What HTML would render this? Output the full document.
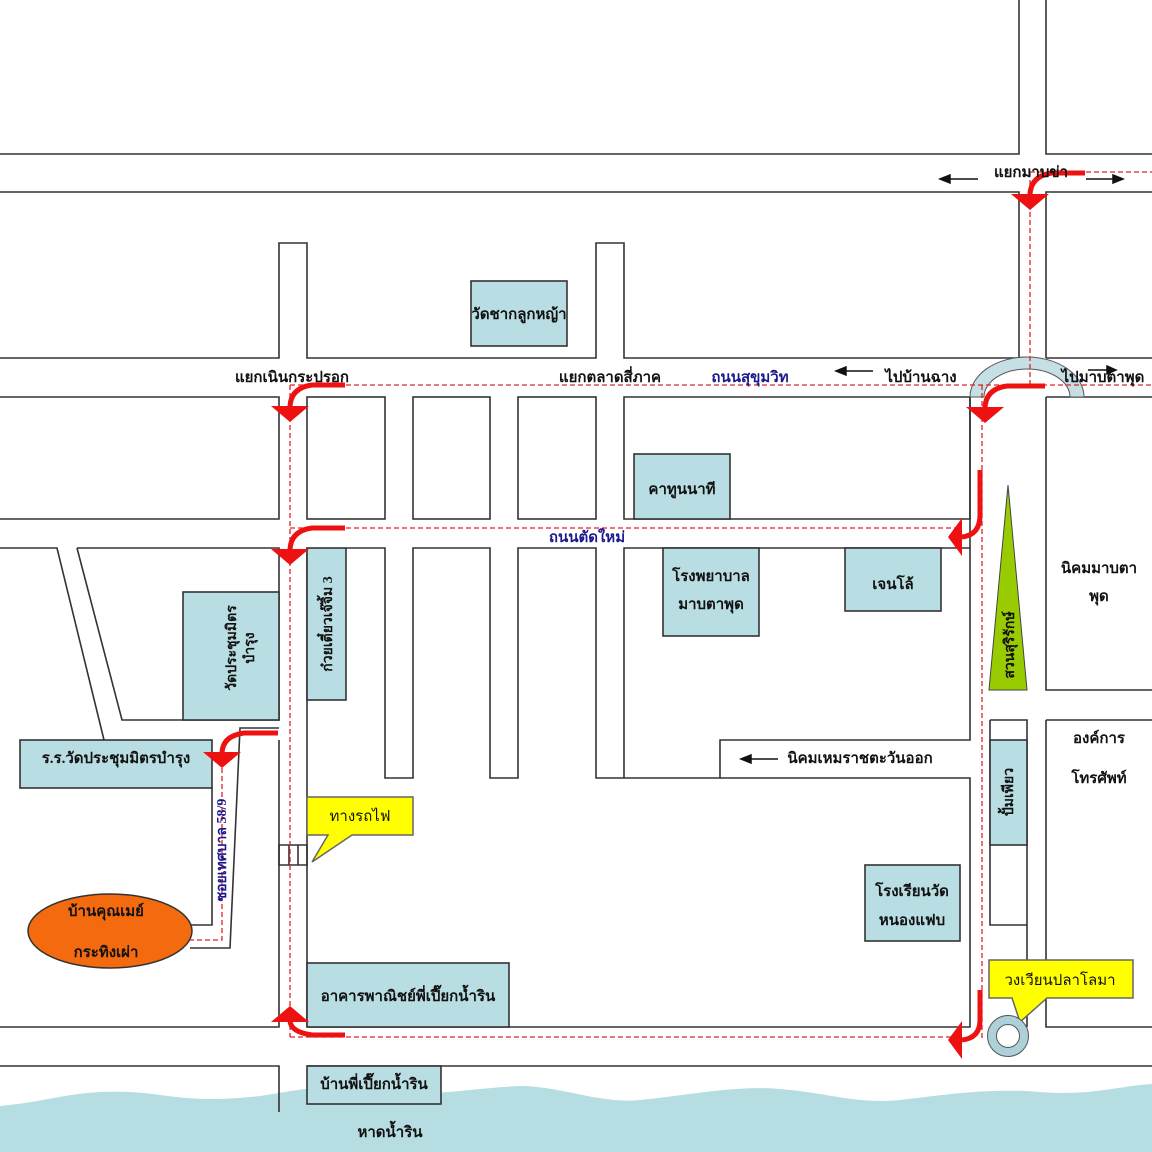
<!DOCTYPE html>
<html><head><meta charset="utf-8"><style>
html,body{margin:0;padding:0;background:#fff}
svg{display:block}
text{font-family:"Liberation Serif","Noto Serif CJK SC",serif;font-weight:bold;font-size:15px;fill:#111}
.b{fill:#1a1a8c}
</style></head><body>
<svg width="1152" height="1152" viewBox="0 0 1152 1152" xmlns="http://www.w3.org/2000/svg">
<path d="M0,1106 C60,1100 70,1090 130,1092 C170,1094 190,1104 260,1096 C300,1090 330,1082 380,1090 C430,1098 470,1088 520,1086 C560,1086 600,1104 640,1100 C700,1094 740,1084 790,1090 C830,1094 860,1104 900,1100 C950,1094 990,1088 1040,1092 C1090,1096 1120,1086 1152,1084 L1152,1152 L0,1152Z" fill="#b6dde1"/>
<g fill="none" stroke="#333" stroke-width="1.6">
<path d="M0,154H1019V0 M1046,0V154H1152"/>
<path d="M0,192H1019V358 M1152,192H1046V358"/>
<path d="M0,358H279V243H307V358H596V243H624V358H1019 M1046,358H1152"/>
<path d="M0,397H279V519H0"/>
<rect x="307" y="397" width="78" height="122"/>
<rect x="413" y="397" width="77" height="122"/>
<rect x="518" y="397" width="78" height="122"/>
<path d="M624,397H970V519H624Z"/>
<path d="M1046,397H1152 M1046,397V690H1152"/>
<path d="M0,548H57L104,740 M77,548H279V720H122L77,548"/>
<path d="M279,728H240L230,948H190 M212,788V925H190"/>
<path d="M0,1027H279V740"/>
<path d="M307,548V1027 M346,548H385V778H413V548H490V778H518V548H596V778H720V740H970V548H624V778"/>
<path d="M720,778H970V1027H307"/>
<path d="M970,397V548"/>
<path d="M990,720H1027V1027 M990,720V925H1027"/>
<path d="M1046,720H1152 M1046,720V1027H1152"/>
<path d="M0,1066H279V1112 M307,1066H1152"/>
<path d="M279,845H307V865H279Z M289,845V865 M298,845V865"/>
</g>
<path d="M970,397 A57,40 0 0 1 1084,397 L1070,397 A43,28 0 0 0 984,397Z" fill="#c5dfe4" stroke="#555" stroke-width="1"/>
<g fill="#b8dde2" stroke="#333" stroke-width="1.6">
<rect x="471" y="281" width="96" height="65"/>
<rect x="634" y="454" width="96" height="65"/>
<rect x="663" y="548" width="96" height="88"/>
<rect x="845" y="548" width="96" height="63"/>
<rect x="183" y="592" width="96" height="128"/>
<rect x="307" y="548" width="39" height="152"/>
<rect x="20" y="740" width="192" height="48"/>
<rect x="307" y="963" width="202" height="64"/>
<rect x="307" y="1066" width="134" height="38"/>
<rect x="865" y="865" width="95" height="76"/>
<rect x="990" y="740" width="37" height="105"/>
</g>
<polygon points="1008,485 989,690 1027,690" fill="#99cc00" stroke="#444" stroke-width="1"/>
<ellipse cx="110" cy="931" rx="82" ry="37" fill="#f46a0e" stroke="#333" stroke-width="1.5"/>
<path d="M307,797H413V835H352L312,862L328,835H307Z" fill="#ffff00" stroke="#666" stroke-width="1.5"/>
<path d="M989,960H1133V998H1047L1020,1022L1012,998H989Z" fill="#ffff00" stroke="#666" stroke-width="1.5"/>
<circle cx="1008" cy="1036" r="16" fill="none" stroke="#aed0d8" stroke-width="9"/>
<circle cx="1008" cy="1036" r="20.5" fill="none" stroke="#555" stroke-width="1"/>
<circle cx="1008" cy="1036" r="11.5" fill="none" stroke="#555" stroke-width="1"/>
<g fill="none" stroke="#e0202a" stroke-width="1.3" stroke-dasharray="5,3">
<path d="M290,385H1152 M1030,172H1152 M1030,172V385 M982,385V1040 M290,385V1037 M290,528H960 M290,1037H960 M222,760V940H190"/>
</g>
<g fill="none" stroke="#ee1111" stroke-width="5">
<path d="M345,385H312Q290,388 290,408"/>
<path d="M345,528H312Q290,531 290,551"/>
<path d="M1085,173H1052Q1030,176 1030,196"/>
<path d="M1045,386H1007Q985,389 985,409"/>
<path d="M278,733H244Q222,736 222,754"/>
<path d="M345,1035H312Q290,1032 290,1020"/>
<path d="M980,470V515Q980,535 962,537"/>
<path d="M980,990V1020Q980,1038 962,1040"/>
</g>
<g fill="#ee1111">
<polygon points="271,406 309,406 290,422"/>
<polygon points="271,549 309,549 290,565"/>
<polygon points="1011,194 1049,194 1030,210"/>
<polygon points="966,407 1004,407 985,423"/>
<polygon points="203,752 241,752 222,768"/>
<polygon points="271,1022 309,1022 290,1006"/>
<polygon points="962,518 962,556 948,537"/>
<polygon points="962,1021 962,1059 948,1040"/>
</g>
<g stroke="#111" stroke-width="1.5" fill="#111">
<path d="M978,179H946"/><polygon points="940,179 950,175 950,183"/>
<path d="M1086,179H1116"/><polygon points="1123,179 1113,175 1113,183"/>
<path d="M873,371H843"/><polygon points="836,371 846,367 846,375"/>
<path d="M1088,370H1110"/><polygon points="1116,370 1107,366 1107,374"/>
<path d="M778,759H748"/><polygon points="741,759 751,755 751,763"/>
</g>
<text x="519" y="319" text-anchor="middle">วัดชากลูกหญ้า</text>
<text x="682" y="494" text-anchor="middle">คาทูนนาที</text>
<text x="711" y="581" text-anchor="middle">โรงพยาบาล</text>
<text x="711" y="609" text-anchor="middle">มาบตาพุด</text>
<text x="893" y="589" text-anchor="middle">เจนโล้</text>
<text x="116" y="763" text-anchor="middle">ร.ร.วัดประชุมมิตรบำรุง</text>
<text x="408" y="1001" text-anchor="middle">อาคารพาณิชย์พี่เปี๊ยกน้ำริน</text>
<text x="374" y="1089" text-anchor="middle">บ้านพี่เปี๊ยกน้ำริน</text>
<text x="912" y="896" text-anchor="middle">โรงเรียนวัด</text>
<text x="912" y="925" text-anchor="middle">หนองแฟบ</text>
<text x="106" y="916" text-anchor="middle">บ้านคุณเมย์</text>
<text x="106" y="957" text-anchor="middle">กระทิงเผ่า</text>
<text x="360" y="821" text-anchor="middle" style="font-weight:normal">ทางรถไฟ</text>
<text x="1060" y="985" text-anchor="middle" style="font-weight:normal">วงเวียนปลาโลมา</text>
<text x="292" y="382" text-anchor="middle">แยกเนินกระปรอก</text>
<text x="610" y="382" text-anchor="middle">แยกตลาดสี่ภาค</text>
<text x="750" y="382" text-anchor="middle" class="b">ถนนสุขุมวิท</text>
<text x="921" y="382" text-anchor="middle">ไปบ้านฉาง</text>
<text x="1103" y="382" text-anchor="middle">ไปมาบตาพุด</text>
<text x="1031" y="177" text-anchor="middle">แยกมาบข่า</text>
<text x="587" y="542" text-anchor="middle" class="b">ถนนตัดใหม่</text>
<text x="1099" y="573" text-anchor="middle">นิคมมาบตา</text>
<text x="1099" y="601" text-anchor="middle">พุด</text>
<text x="1099" y="743" text-anchor="middle">องค์การ</text>
<text x="1099" y="783" text-anchor="middle">โทรศัพท์</text>
<text x="860" y="763" text-anchor="middle">นิคมเหมราชตะวันออก</text>
<text x="390" y="1137" text-anchor="middle">หาดน้ำริน</text>
<text transform="translate(226,850) rotate(-90)" text-anchor="middle" class="b" style="font-size:14px">ซอยเทศบาล 58/9</text>
<text transform="translate(236,648) rotate(-90)" text-anchor="middle" style="font-size:14px">วัดประชุมมิตร</text>
<text transform="translate(254,648) rotate(-90)" text-anchor="middle" style="font-size:14px">บำรุง</text>
<text transform="translate(332,624) rotate(-90)" text-anchor="middle" style="font-size:14px">ก๋วยเตี๋ยวเจ๊จิ้ม 3</text>
<text transform="translate(1014,645) rotate(-90)" text-anchor="middle" style="font-size:14px">สวนสุริรักษ์</text>
<text transform="translate(1013,792) rotate(-90)" text-anchor="middle" style="font-size:14px">ปั้มเพียว</text>
</svg>
</body></html>
